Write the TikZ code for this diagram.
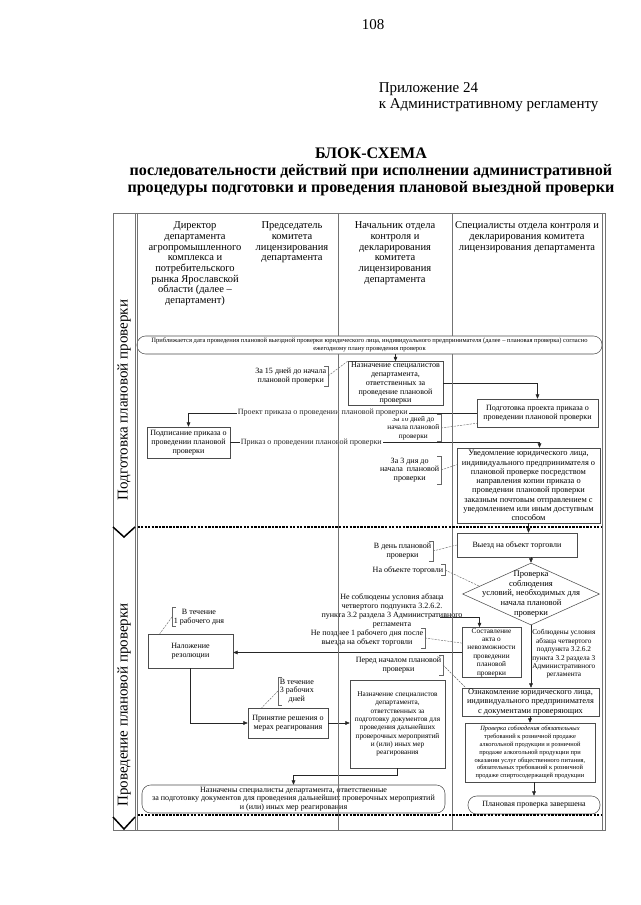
\documentclass[tikz,border=0pt]{standalone}
\usepackage{fontspec}
\setmainfont{Liberation Serif}
\usetikzlibrary{arrows.meta, positioning, calc, shapes.geometric}

\def\pxu{0.0328cm}
% brackets of the side notes
\newcommand{\brR}[1]{\draw[brk] ($(#1.north east)+(-4,0)$) -- (#1.north east) -- (#1.south east) -- ($(#1.south east)+(-4,0)$);}
\newcommand{\brL}[1]{\draw[brk] ($(#1.north west)+(4,0)$) -- (#1.north west) -- (#1.south west) -- ($(#1.south west)+(4,0)$);}

\begin{document}
\begin{tikzpicture}[
    x=0.0328cm, y=-0.0328cm,
    >={Triangle[length=4pt,width=3.4pt]},
    txtH/.style={font=\fontsize{9.8}{10}\selectfont},
    txtM/.style={font=\fontsize{7.8}{8.6}\selectfont},
    txtS/.style={font=\fontsize{7.5}{8.2}\selectfont},
    txtXS/.style={font=\fontsize{6.8}{7.8}\selectfont},
    txtT/.style={font=\fontsize{6}{7.4}\selectfont},
    txtXXS/.style={font=\fontsize{6.1}{7}\selectfont},
    box/.style={draw=black!70, line width=0.5pt, align=center, inner sep=1pt},
    term/.style={box, rounded corners=8pt},
    decision/.style={diamond, draw=black!70, line width=0.5pt, inner sep=0pt},
    note/.style={align=center, inner sep=1.5pt},
    lbl/.style={fill=white, inner sep=1pt, txtS},
    conn/.style={black!85, ->, line width=0.5pt},
    brk/.style={black!60, line width=0.4pt},
    callout/.style={black!60, line width=0.4pt, dash pattern=on 2pt off 1pt},
    frame/.style={black!55, line width=0.7pt},
    lanesep/.style={line width=1.6pt, dash pattern=on 2.2pt off 1.1pt},
    chevron/.style={line width=1.4pt}
]
\useasboundingbox (0,0) rectangle (640,905);

% ---------- Page head ----------
\node[font=\fontsize{14}{15}\selectfont] (pnum) at (373,25) {108};
\node[anchor=west, align=left, font=\fontsize{14}{14.5}\selectfont] (appx) at (375,97)
    {Приложение 24\\к Административному регламенту};
\node[align=center, font=\bfseries\fontsize{15}{15.5}\selectfont] (title) at (371,172)
    {БЛОК-СХЕМА\\последовательности действий при исполнении административной\\процедуры подготовки и проведения плановой выездной проверки};

% ---------- Column heads ----------
\node[txtH, align=center, anchor=north] (hdir) at (195,218) {Директор\\департамента\\агропромышленного\\комплекса и\\потребительского\\рынка Ярославской\\области (далее –\\департамент)};
\node[txtH, align=center, anchor=north] (hpred) at (292,218) {Председатель\\комитета\\лицензирования\\департамента};
\node[txtH, align=center, anchor=north] (hnach) at (395,218) {Начальник отдела\\контроля и\\декларирования\\комитета\\лицензирования\\департамента};
\node[txtH, align=center, anchor=north] (hspec) at (527,218) {Специалисты отдела контроля и\\декларирования комитета\\лицензирования департамента};

% ---------- Lane labels ----------
\node[rotate=90, font=\fontsize{14}{15}\selectfont] (lane1) at (124,400) {Подготовка плановой проверки};
\node[rotate=90, font=\fontsize{14}{15}\selectfont] (lane2) at (124,705) {Проведение плановой проверки};

% ---------- Lane 1 ----------
\node[term, txtXXS, fill=white, minimum width=465*\pxu, minimum height=18*\pxu] (start) at (369.5,345)
    {Приближается дата проведения плановой выездной проверки юридического лица, индивидуального предпринимателя (далее – плановая проверка) согласно\\ежегодному плану проведения проверок};
\node[box, txtS, minimum width=95*\pxu, minimum height=43*\pxu] (naz1) at (395.5,383.5)
    {Назначение специалистов\\департамента,\\ответственных за\\проведение плановой\\проверки};
\node[box, txtS, minimum width=121*\pxu, minimum height=28*\pxu] (podg) at (537.5,413)
    {Подготовка проекта приказа о\\проведении плановой проверки};
\node[box, txtS, minimum width=83*\pxu, minimum height=31*\pxu] (podp) at (188.5,442.5)
    {Подписание приказа о\\проведении плановой\\проверки};
\node[box, txtM, minimum width=143*\pxu, minimum height=75*\pxu] (uved) at (528.5,485.5)
    {Уведомление юридического лица,\\индивидуального предпринимателя о\\плановой проверке посредством\\направления копии приказа о\\проведении плановой проверки\\заказным почтовым отправлением с\\уведомлением или иным доступным\\способом};

% notes
\node[note, txtS, anchor=east] (a15) at (328,376) {За 15 дней до начала\\плановой проверки};
\node[note, txtXS, anchor=east] (a10) at (441,428) {За 10 дней до\\начала плановой\\проверки};
\node[note, txtS, anchor=east] (a3) at (441,470) {За 3 дня до\\начала \ плановой\\проверки};

% ---------- Lane 2 ----------
\node[box, txtS, minimum width=120*\pxu, minimum height=24*\pxu] (vyezd) at (517,545) {Выезд на объект торговли};
\node[decision, minimum width=137*\pxu, minimum height=62*\pxu] (chk) at (531,594) {};
\node[font=\fontsize{8}{9}\selectfont, align=center] (chktxt) at (chk.center) {Проверка\\соблюдения\\условий, необходимых для\\начала плановой\\проверки};
\node[box, txtXS, minimum width=59*\pxu, minimum height=49*\pxu] (akt) at (491.5,652.5)
    {Составление\\акта о\\невозможности\\проведении\\плановой\\проверки};
\node[box, txtM, minimum width=137*\pxu, minimum height=28*\pxu] (ozn) at (530.5,702)
    {Ознакомление юридического лица,\\индивидуального предпринимателя\\с документами проверяющих};
\node[box, txtT, minimum width=130*\pxu, minimum height=59*\pxu] (trebov) at (530,752.5)
    {\itshape Проверка соблюдения обязательных\\требований к розничной продаже\\алкогольной продукции и розничной\\продаже алкогольной продукции при\\оказании услуг общественного питания,\\обязательных требований к розничной\\продаже спиртосодержащей продукции};
\node[term, txtS, minimum width=132*\pxu, minimum height=18*\pxu] (fin) at (534,805) {Плановая проверка завершена};
\node[box, txtS, minimum width=85*\pxu, minimum height=34*\pxu] (nalozh) at (190.5,651) {Наложение\\резолюции};
\node[box, txtS, minimum width=80*\pxu, minimum height=30*\pxu] (prin) at (288,723) {Принятие решения о\\мерах реагирования};
\node[box, txtXS, minimum width=95*\pxu, minimum height=88*\pxu] (naz2) at (397.5,724)
    {Назначение специалистов\\департамента,\\ответственных за\\подготовку документов для\\проведения дальнейших\\проверочных мероприятий\\и (или) иных мер\\реагирования};
\node[term, txtS, minimum width=303*\pxu, minimum height=28*\pxu] (naznach) at (293.5,799)
    {Назначены специалисты департамента, ответственные\\за подготовку документов для проведения дальнейших проверочных мероприятий\\и (или) иных мер реагирования};

% branch texts
\node[note, txtS] (lblne) at (392,611) {Не соблюдены условия абзаца\\четвертого подпункта 3.2.6.2.\\пункта 3.2 раздела 3 Административного\\регламента};
\coordinate (neend) at (440,617);
\node[note, txtXS, anchor=west, inner sep=1pt] (lblyes) at (531,654) {Соблюдены условия\\абзаца четвертого\\подпункта 3.2.6.2\\пункта 3.2 раздела 3\\Административного\\регламента};

% notes
\node[note, txtS, anchor=east] (aday) at (433,551) {В день плановой\\проверки};
\node[note, txtS, anchor=east] (aobj) at (445,570) {На объекте торговли};
\node[note, txtS, anchor=west] (a1day) at (172,617) {В течение\\1 рабочего дня};
\node[note, txtS, anchor=east] (apozd) at (425,638) {Не позднее 1 рабочего дня после\\выезда на объект торговли};
\node[note, txtS, anchor=west] (a3days) at (278,691) {В течение\\3 рабочих\\дней};
\node[note, txtS, anchor=east] (apered) at (443,665) {Перед началом плановой\\проверки};

% ---------- Connections ----------
\draw[conn] (start.south -| naz1.north) -- (naz1.north);
\draw[conn] (naz1.east) -| (podg.north);
\draw[conn] (podg.west) -| node[lbl, pos=0.267] (lblproj) {Проект приказа о проведении плановой проверки} (podp.north);
\draw[conn] (podp.east) -| node[lbl, pos=0.131] (lblprik) {Приказ о проведении плановой проверки} ($(uved.north)+(11,0)$);
\draw[conn] (uved.south) -- (uved.south |- vyezd.north);
\draw[conn] (chk.north |- vyezd.south) -- (chk.north);
\draw[conn] (neend) -| ($(akt.north)+(-12,0)$);
\draw[conn] (chk.south) -- (chk.south |- ozn.north);
\draw[conn] (akt.west) -- (akt.west -| nalozh.east);
\draw[conn] (nalozh.south) |- (prin.west);
\draw[conn] (prin.east) -- (prin.east -| naz2.west);
\draw[conn] (naz2.south) -- ++(0,7) -| (naznach.north);
\draw[conn] (ozn.south -| trebov.north) -- (trebov.north);
\draw[conn] (trebov.south -| fin.north) -- (fin.north);

% note brackets and leaders
\brR{a15} \draw[callout] (a15.east) -- (naz1.north west);
\brR{a10} \draw[callout] (a10.east) -- ($(podg.south west)+(0,-4)$);
\brR{a3} \draw[callout] (a3.east) -- ($(uved.north west)+(0,17)$);
\brR{aday} \draw[callout] (aday.east) -- (vyezd.west);
\brR{aobj} \draw[callout] (aobj.east) -- ($(chk.west)!0.25!(chk.north)$);
\brL{a1day} \draw[callout] (a1day.west) -- ($(nalozh.north west)+(12,0)$);
\brR{apozd} \draw[callout] (apozd.east) -- ($(akt.north west)+(0,16)$);
\brL{a3days} \draw[callout] (a3days.west) -- ($(prin.north west)+(14,0)$);
\brR{apered} \draw[callout] (apered.east) -- ($(ozn.north west)+(4,0)$);

% ---------- Frame ----------
\draw[frame] (113,213) rectangle (605,830);
\draw[frame] (135,213) -- (135,830);
\draw[frame] (137.5,213) -- (137.5,830);
\draw[frame] (602,213) -- (602,830);
\foreach \x in {338,452} {
    \draw[frame] (\x,213) -- (\x,336);
    \draw[frame] (\x,354) -- (\x,830);
}
\draw[lanesep] (137.5,527) -- (602,527);
\draw[lanesep] (137.5,815) -- (602,815);
\draw[chevron] (113,527) -- (124,537) -- (135,527);
\draw[chevron] (113,817) -- (124,829) -- (135,817);

\end{tikzpicture}
\end{document}
